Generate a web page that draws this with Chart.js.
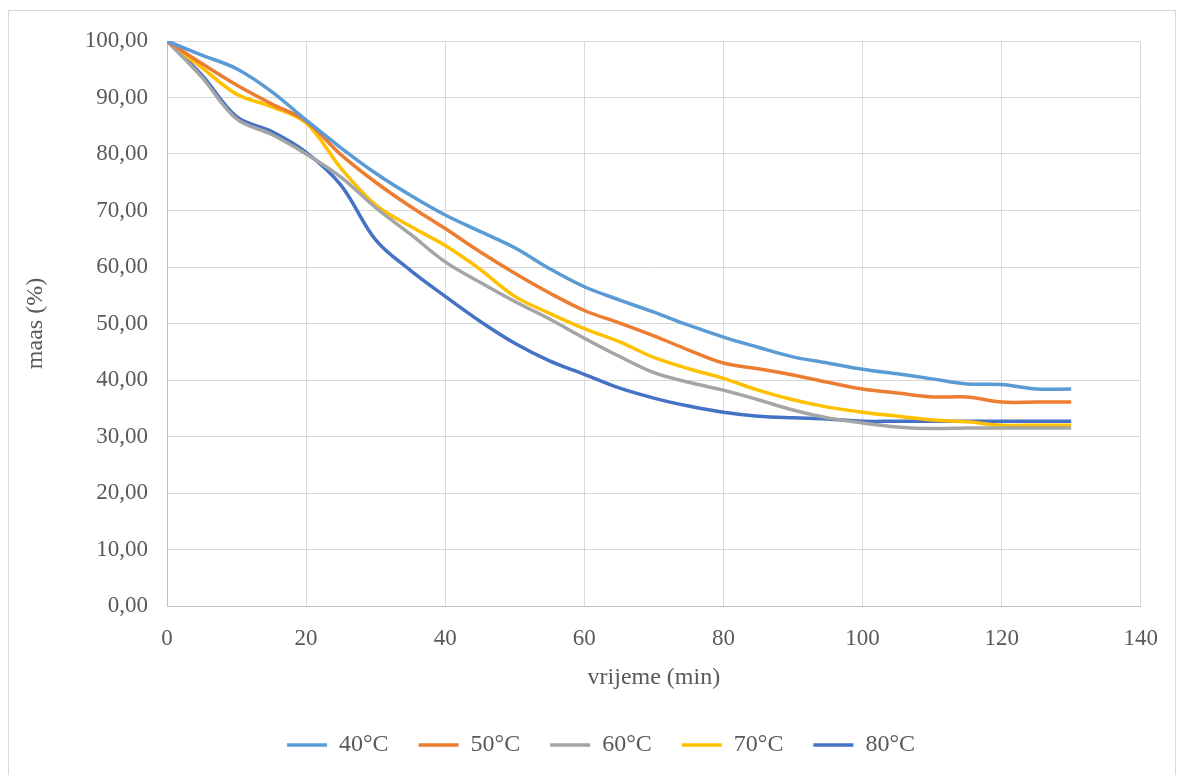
<!DOCTYPE html>
<html>
<head>
<meta charset="utf-8">
<script src="https://cdn.jsdelivr.net/npm/chart.js@4/dist/chart.umd.min.js"></script>
<style>
  html, body { margin: 0; padding: 0; background: #fff; }
  #frame { position: absolute; left: 8px; top: 10px; width: 1166px; height: 780px; border: 1px solid #d9d9d9; }
  #wrap { position: absolute; left: 0; top: 0; width: 1177px; height: 775px; }
</style>
</head>
<body>
<div id="frame"></div>
<div id="wrap"><canvas id="chart"></canvas></div>
<script>
// time (min)
const minutes = [0, 5, 10, 15, 20, 25, 30, 35, 40, 45, 50, 55, 60, 65, 70, 75, 80, 85, 90, 95, 100, 105, 110, 115, 120, 125, 130];

// mass (%) per drying temperature
const t40 = [100, 97.5, 95.1, 91.1, 86.0, 81.1, 76.6, 72.7, 69.2, 66.3, 63.4, 59.7, 56.5, 54.2, 52.0, 49.7, 47.6, 45.8, 44.1, 43.0, 41.9, 41.1, 40.2, 39.3, 39.2, 38.4, 38.4];
const t50 = [100, 96.0, 92.2, 88.9, 85.8, 79.9, 75.0, 70.7, 66.8, 62.7, 58.9, 55.4, 52.3, 50.1, 47.8, 45.3, 43.0, 42.0, 40.9, 39.6, 38.4, 37.7, 37.0, 37.0, 36.1, 36.1, 36.1];
const t60 = [100, 93.6, 86.2, 83.5, 80.0, 75.9, 70.5, 65.8, 60.9, 57.3, 53.9, 50.8, 47.4, 44.2, 41.3, 39.6, 38.2, 36.5, 34.7, 33.3, 32.4, 31.7, 31.4, 31.5, 31.5, 31.5, 31.5];
const t70 = [100, 95.3, 90.6, 88.4, 85.5, 77.5, 71.0, 67.2, 63.8, 59.6, 54.8, 51.8, 49.1, 46.8, 44.0, 42.0, 40.3, 38.2, 36.5, 35.2, 34.3, 33.6, 32.9, 32.6, 32.0, 32.0, 32.0];
const t80 = [100, 94.0, 86.6, 84.0, 80.3, 74.5, 64.8, 59.4, 54.8, 50.4, 46.5, 43.4, 41.0, 38.6, 36.8, 35.4, 34.3, 33.6, 33.3, 33.1, 32.7, 32.7, 32.7, 32.7, 32.7, 32.7, 32.7];

const seriesNames = ["40°C", "50°C", "60°C", "70°C", "80°C"];
const seriesColors = ["#5b9bd5", "#ed7d31", "#a5a5a5", "#ffc000", "#4472c4"];
const seriesValues = [t40, t50, t60, t70, t80];

const serif = "'Liberation Serif', 'Times New Roman', serif";
const textColor = "#595959";

let datasets = seriesNames.map((name, i) => ({
    label: name,
    data: minutes.map((m, j) => ({ x: m, y: seriesValues[i][j] })),
    borderColor: seriesColors[i],
    backgroundColor: seriesColors[i],
    borderWidth: 3.5,
    pointRadius: 0,
    tension: 0.35,
    fill: false
}));

new Chart(document.getElementById("chart"), {
    type: "line",
    data: { datasets: datasets },
    options: {
        responsive: true,
        maintainAspectRatio: false,
        animation: false,
        // left padding only shifts the legend centre to where the original has it
        layout: { padding: { top: 41, right: 36, bottom: 8, left: 61 } },
        plugins: {
            legend: {
                position: "bottom",
                labels: {
                    usePointStyle: true,
                    pointStyle: "line",
                    pointStyleWidth: 40,
                    color: textColor,
                    font: { family: serif, size: 24 },
                    padding: 30,
                    boxHeight: 20
                }
            },
            tooltip: { enabled: false }
        },
        scales: {
            x: {
                type: "linear",
                min: 0,
                max: 140,
                ticks: {
                    stepSize: 20,
                    color: textColor,
                    font: { family: serif, size: 23 },
                    padding: 19,
                    maxRotation: 0
                },
                grid: { color: "#d9d9d9", lineWidth: 1, drawTicks: false },
                border: { color: "#bfbfbf", width: 1 },
                title: {
                    display: true,
                    text: "vrijeme (min)",
                    color: textColor,
                    font: { family: serif, size: 24 },
                    padding: { top: 4, bottom: 11 }
                },
                afterFit: s => { s.height = 97; }
            },
            y: {
                min: 0,
                max: 100,
                ticks: {
                    stepSize: 10,
                    color: textColor,
                    font: { family: serif, size: 23 },
                    padding: 19,
                    callback: v => v.toFixed(2).replace(".", ",")
                },
                grid: { color: "#d9d9d9", lineWidth: 1, drawTicks: false },
                border: { color: "#bfbfbf", width: 1 },
                title: {
                    display: true,
                    text: "maas (%)",
                    color: textColor,
                    font: { family: serif, size: 24 },
                    padding: { top: -40 }
                },
                afterFit: s => { s.width = 106; }
            }
        }
    }
});
</script>
</body>
</html>
